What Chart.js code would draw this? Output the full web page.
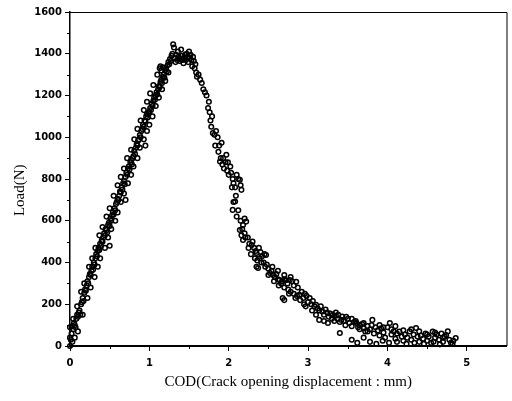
<!DOCTYPE html>
<html><head><meta charset="utf-8">
<script src="https://cdn.jsdelivr.net/npm/chart.js@4.4.0/dist/chart.umd.min.js"></script>
<style>html,body{margin:0;padding:0;background:#fff}</style>
</head><body>
<canvas id="c" width="512" height="401"></canvas>
<script>
// ---- data ----
const riseX = [0.00,0.00,0.00,0.01,0.02,0.03,0.04,0.05,0.06,0.07,0.08,0.09,0.10,0.11,0.12,0.13,0.14,0.15,0.16,0.17,0.18,0.19,0.20,0.21,0.22,0.23,0.24,0.25,0.26,0.27,0.28,0.29,0.30,0.31,0.32,0.33,0.34,0.35,0.36,0.37,0.38,0.39,0.40,0.41,0.42,0.43,0.44,0.45,0.46,0.47,0.48,0.49,0.50,0.51,0.52,0.53,0.54,0.55,0.56,0.57,0.58,0.59,0.60,0.61,0.62,0.63,0.64,0.65,0.66,0.67,0.68,0.69,0.70,0.71,0.72,0.73,0.74,0.75,0.76,0.77,0.78,0.79,0.80,0.81,0.82,0.83,0.84,0.85,0.86,0.87,0.88,0.89,0.90,0.91,0.92,0.93,0.94,0.95,0.96,0.97,0.98,0.99,1.00,1.01,1.02,1.03,1.04,1.05,1.06,1.07,1.08,1.09,1.10,1.11,1.12,1.13,1.14,1.15,1.16,1.17,1.18,1.19,1.20,1.21,1.22,1.23,1.24,1.25];
const riseY = [0,40,90,30,60,95,80,110,100,90,130,150,140,160,170,150,200,210,230,215,255,270,265,290,310,300,330,345,340,360,380,365,400,390,420,440,430,455,470,460,490,480,505,500,520,540,530,560,555,545,580,590,575,610,600,625,640,630,660,650,680,690,705,700,720,740,735,760,750,780,790,775,810,830,820,850,860,845,880,890,870,900,910,935,920,950,965,960,985,990,1010,1000,1030,1040,1060,1050,1080,1075,1100,1110,1095,1120,1120,1140,1130,1160,1150,1175,1190,1180,1200,1215,1205,1230,1245,1240,1265,1275,1260,1290,1300,1285,1320,1330,1315,1345,1360,1350];
const riseLeftX = [0.04,0.09,0.14,0.18,0.24,0.28,0.32,0.37,0.41,0.46,0.50,0.55,0.60,0.64,0.68,0.72,0.77,0.81,0.85,0.89,0.93,0.97,1.01,1.05,1.10,1.14];
const riseLeftY = [130,190,260,300,380,420,470,530,570,620,660,720,770,810,850,900,940,990,1040,1080,1130,1170,1210,1250,1300,1340];
const riseRightX = [0.03,0.06,0.10,0.16,0.22,0.26,0.31,0.35,0.38,0.44,0.48,0.52,0.57,0.60,0.64,0.68,0.73,0.77,0.80,0.85,0.88,0.93,0.97,1.00,1.04,1.08,1.12,1.16,1.20,1.24,0.50,0.70,0.95];
const riseRightY = [20,40,70,150,230,280,330,380,420,470,520,560,600,640,690,730,780,820,860,900,950,990,1030,1060,1100,1150,1190,1230,1270,1310,480,700,960];
const peakX = [1.13,1.15,1.17,1.26,1.27,1.28,1.29,1.30,1.31,1.32,1.33,1.34,1.35,1.36,1.37,1.38,1.39,1.40,1.41,1.42,1.43,1.44,1.45,1.46,1.47,1.48,1.49,1.50,1.51,1.52,1.53,1.54,1.55,1.56,1.57,1.58,1.59,1.60];
const peakY = [1330,1320,1335,1375,1365,1390,1400,1445,1430,1380,1360,1395,1370,1410,1385,1365,1375,1420,1390,1370,1355,1380,1395,1370,1400,1385,1360,1410,1380,1395,1370,1340,1385,1365,1330,1350,1310,1290];
const fallX = [1.64,1.66,1.70,1.72,1.74,1.76,1.77,1.78,1.80,1.82,1.84,1.86,1.88,1.89,1.90,1.91,1.92,1.94,1.96,1.97,1.98,2.00,2.02,2.03,2.05,2.06,2.08,2.10,2.12,2.14,2.15,2.16,2.05,2.06,2.08,2.10,2.14,2.15,2.18,2.20,2.22,2.18,2.20,2.16,2.24,2.26,2.29,2.30,2.32,2.34,2.35,2.36,2.38,2.40,2.42,2.44,2.35,2.37,2.39,2.45,2.47,2.48,2.50,2.52,2.54,2.56,2.58,2.60,2.62,2.64,2.66,2.68,2.70,2.72,2.74,2.77,2.80,2.82,2.85,2.87,2.68,2.70,2.75,2.78,2.82,2.86,2.89,2.92,2.94,2.96,2.98,2.55,2.62,2.70,2.78];
const fallY = [1276,1260,1215,1200,1140,1120,1080,1050,1020,1012,1030,1000,960,884,900,974,870,850,880,916,840,820,860,830,800,780,760,820,800,796,770,748,652,690,692,620,556,600,580,610,596,508,540,530,520,490,484,500,470,455,446,410,470,450,430,400,380,374,420,440,436,390,370,350,360,340,330,345,320,316,300,310,320,315,300,316,310,290,308,280,230,220,270,260,250,240,245,260,230,250,240,380,360,340,330];
const fallExtraX = [1.62,1.68,1.75,1.79,1.83,1.87,1.93,1.99,2.04,2.09,2.12,2.17,2.21,2.25,2.28,2.33,2.41,2.46,2.50,2.57,2.63,2.70,2.76,2.84,2.90,2.97];
const fallExtraY = [1300,1230,1170,1100,960,930,900,880,760,720,650,560,520,470,440,420,400,380,340,310,290,280,250,230,220,190];
const tailX = [3.00,3.02,3.04,3.06,3.08,3.10,3.12,3.14,3.16,3.18,3.20,3.22,3.24,3.26,3.28,3.30,3.31,3.33,3.35,3.37,3.40,3.43,3.45,3.47,3.50,3.52,3.55,3.58,3.61,3.63,3.65,3.68,3.70,3.72,3.75,3.78,3.81,3.83,3.85,3.88,3.90,3.92,3.95,3.97,4.00,4.03,4.05,4.08,4.10,4.12,4.15,4.18,4.20,4.22,4.25,4.28,4.30,4.33,4.36,4.38,4.40,4.42,4.45,4.48,4.50,4.52,4.55,4.57,4.60,4.62,4.65,4.68,4.70,4.72,4.74,4.76,4.78,4.80,4.83,4.86,4.74,
  2.95,3.05,3.10,3.14,3.20,3.25,3.40,3.55,3.62,3.70,3.78,3.86,3.94,4.02,4.12,4.24,4.34,4.46,4.58,4.66,4.82,
  3.35,3.38,3.42,3.48,3.55,3.60,3.65,3.70,3.75,3.80,3.90,3.95,4.05,4.10,4.20,4.30,4.40,4.50,4.60,4.70];
const tailY = [210,230,200,215,190,197,180,170,190,165,150,175,160,140,155,130,149,120,145,130,115,141,120,100,130,110,95,115,110,90,80,105,85,70,95,80,125,60,90,75,50,85,65,40,90,110,55,70,35,60,69,45,25,55,40,70,30,55,86,45,20,50,35,60,25,45,15,69,40,55,30,60,20,45,53,70,30,15,25,38,-34,
  200,170,150,125,120,110,62,30,15,40,20,10,25,15,20,10,15,10,20,8,10,
  160,150,125,140,130,120,100,110,70,100,100,90,80,95,75,80,70,55,65,40];
const xTickValues = [0,1,2,3,4,5];
const xMinorValues = [0.5,1.5,2.5,3.5,4.5];
const yTickValues = [0,200,400,600,800,1000,1200,1400,1600];
const yMinorValues = [100,300,500,700,900,1100,1300,1500];
const xTitle = 'COD(Crack opening displacement : mm)';
const yTitle = 'Load(N)';

const xs = [].concat(riseX, riseLeftX, riseRightX, peakX, fallX, fallExtraX, tailX);
const ys = [].concat(riseY, riseLeftY, riseRightY, peakY, fallY, fallExtraY, tailY);
const points = xs.map((v, i) => ({x: v, y: ys[i]}));

const framePlugin = {
  id: 'frame',
  afterDraw(chart) {
    const {ctx, chartArea: a, scales: {x, y}} = chart;
    ctx.save();
    ctx.strokeStyle = '#000';
    ctx.lineWidth = 1;
    ctx.beginPath();
    ctx.moveTo(a.left, a.top + 0.5); ctx.lineTo(a.right + 0.5, a.top + 0.5); ctx.lineTo(a.right + 0.5, a.bottom);
    ctx.stroke();
    ctx.beginPath();
    xMinorValues.forEach(v => { const p = Math.round(x.getPixelForValue(v)) + 0.5; ctx.moveTo(p, a.bottom); ctx.lineTo(p, a.bottom + 3); });
    yMinorValues.forEach(v => { const p = Math.round(y.getPixelForValue(v)) + 0.5; ctx.moveTo(a.left, p); ctx.lineTo(a.left - 3, p); });
    ctx.stroke();
    ctx.restore();
  }
};

const tickFont = {family: 'DejaVu Sans', size: 10, weight: 'bold'};

new Chart(document.getElementById('c'), {
  type: 'scatter',
  data: { datasets: [{
    data: points,
    pointStyle: 'circle',
    pointRadius: 2.3,
    pointBorderWidth: 1.5,
    borderColor: '#000',
    backgroundColor: 'rgba(0,0,0,0)',
    clip: false
  }]},
  options: {
    responsive: false,
    animation: false,
    layout: {padding: {left: 0, right: 5, top: 12, bottom: 0}},
    plugins: {legend: {display: false}, tooltip: {enabled: false}},
    scales: {
      x: {
        type: 'linear', min: 0, max: 5.5,
        afterBuildTicks: s => { s.ticks = xTickValues.map(v => ({value: v})); },
        afterFit: s => { s.height = 55; },
        ticks: {color: '#000', font: tickFont, padding: 6, maxRotation: 0, callback: v => String(v)},
        grid: {drawOnChartArea: false, drawTicks: true, tickLength: 5, color: '#000', lineWidth: 1},
        border: {display: true, color: '#000', width: 2},
        title: {display: true, text: xTitle, color: '#000',
          font: {family: 'Liberation Serif', size: 15}, padding: {top: 0, bottom: 10}}
      },
      y: {
        type: 'linear', min: 0, max: 1600,
        afterBuildTicks: s => { s.ticks = yTickValues.map(v => ({value: v})); },
        afterFit: s => { s.width = 70; },
        ticks: {color: '#000', font: tickFont, padding: 3, callback: v => String(v)},
        grid: {drawOnChartArea: false, drawTicks: true, tickLength: 5, color: '#000', lineWidth: 1},
        border: {display: true, color: '#000', width: 1.5},
        title: {display: true, text: yTitle + '      ', color: '#000',
          font: {family: 'Liberation Serif', size: 15}, padding: {top: 11, bottom: 0}}
      }
    }
  },
  plugins: [framePlugin]
});
</script>
</body></html>
